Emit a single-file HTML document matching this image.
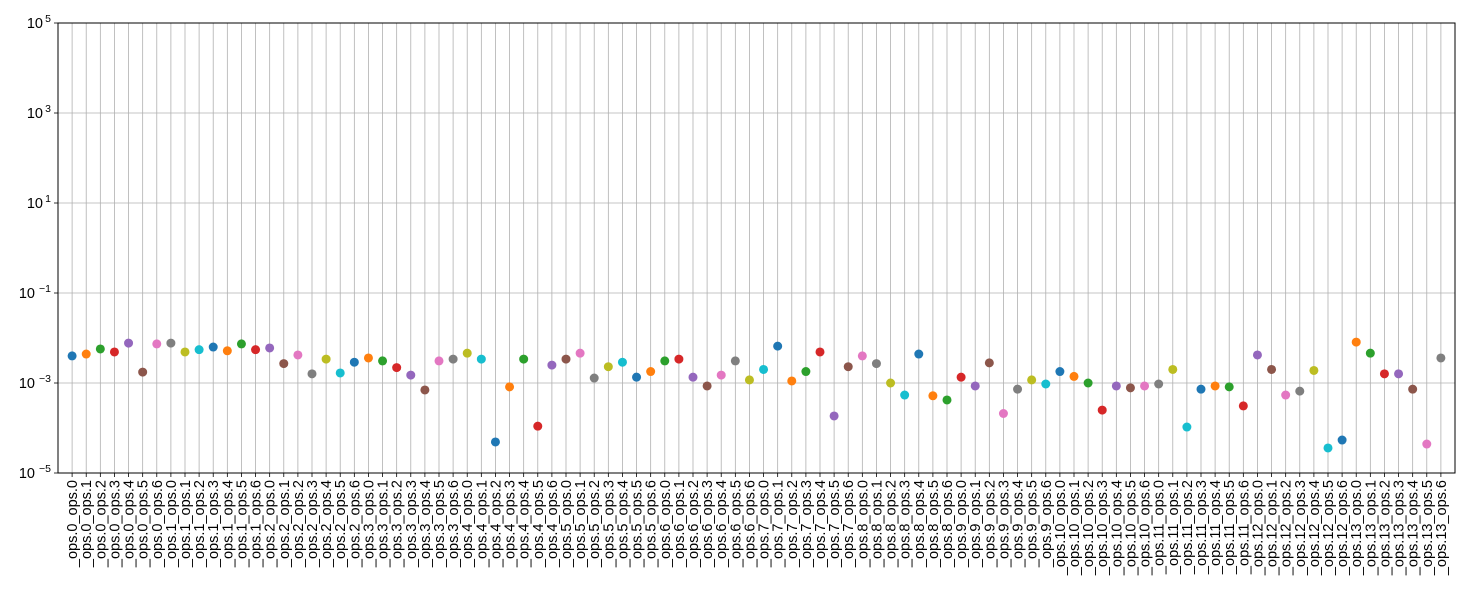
<!DOCTYPE html>
<html><head><meta charset="utf-8">
<style>
html,body{margin:0;padding:0;background:#fff;}
svg{display:block;font-family:"Liberation Sans","DejaVu Sans",sans-serif;}
</style></head>
<body>
<svg id="chart" width="1470" height="600" viewBox="0 0 1470 600" xmlns="http://www.w3.org/2000/svg">
<rect x="0" y="0" width="1470" height="600" fill="#fff"/>
<g id="grid"></g>
<g id="xticks"></g>
<g id="yticks"></g>
<g id="points"></g>
<rect x="58" y="23" width="1397" height="450" fill="none" stroke="#000" stroke-width="1"/>
</svg>
<script>
const groups = [0,1,2,3,4,5,6,7,8,9,10,11,12,13];
const subs = [0,1,2,3,4,5,6];
const values = [
0.0040,0.0044,0.0057,0.0049,0.0077,0.00175,0.0074,
0.0077,0.0049,0.0055,0.0063,0.0052,0.0074,0.0055,
0.0060,0.0027,0.0042,0.0016,0.0034,0.00167,0.0029,
0.0036,0.0031,0.0022,0.0015,0.00070,0.0031,0.0034,
0.0046,0.0034,0.000049,0.00082,0.0034,0.00011,0.0025,
0.0034,0.0046,0.00129,0.0023,0.0029,0.00135,0.0018,
0.0031,0.0034,0.00135,0.00086,0.0015,0.0031,0.00117,
0.0020,0.0066,0.00111,0.0018,0.0049,0.000185,0.0023,
0.0040,0.0027,0.0010,0.00054,0.0044,0.00052,0.00042,
0.00135,0.00086,0.0028,0.00021,0.00073,0.00117,0.00095,
0.0018,0.0014,0.0010,0.00025,0.00086,0.00078,0.00086,
0.00095,0.0020,0.000105,0.00073,0.00086,0.00082,0.00031,
0.0042,0.0020,0.00054,0.00066,0.0019,0.000036,0.000054,
0.0081,0.0046,0.0016,0.0016,0.00073,0.000044,0.0036
];
const yTickExps = [-5,-3,-1,1,3,5];
const colors = ["#1f77b4","#ff7f0e","#2ca02c","#d62728","#9467bd","#8c564b","#e377c2","#7f7f7f","#bcbd22","#17becf"];

const categories = [];
groups.forEach(g => subs.forEach(s => categories.push("_ops." + g + "_ops." + s)));

const NS = "http://www.w3.org/2000/svg";
const L = 58, R = 1455, T = 23, B = 473;
const n = categories.length;
function xPos(i){ return L + (i + 1) * (R - L) / (n + 1); }
function yPos(v){ const lg = Math.log10(v); return B - (lg + 5) / 10 * (B - T); }

const grid = document.getElementById('grid');
const xt = document.getElementById('xticks');
const yt = document.getElementById('yticks');
const pts = document.getElementById('points');

categories.forEach((c, i) => {
  const x = xPos(i);
  const gl = document.createElementNS(NS, 'line');
  gl.setAttribute('x1', x); gl.setAttribute('x2', x);
  gl.setAttribute('y1', T); gl.setAttribute('y2', B);
  gl.setAttribute('stroke', '#b0b0b0'); gl.setAttribute('stroke-width', '0.8');
  
  
  grid.appendChild(gl);
  const tk = document.createElementNS(NS, 'line');
  tk.setAttribute('x1', x); tk.setAttribute('x2', x);
  tk.setAttribute('y1', B); tk.setAttribute('y2', B + 4);
  tk.setAttribute('stroke', '#000'); tk.setAttribute('stroke-width', '0.8');
  
  
  xt.appendChild(tk);
  const t = document.createElementNS(NS, 'text');
  t.setAttribute('transform', 'translate(' + (x + 5) + ',' + (B + 7) + ') rotate(-90)');
  t.setAttribute('text-anchor', 'end');
  t.setAttribute('font-size', '14.5');
  t.textContent = c;
  
  
  xt.appendChild(t);
});

yTickExps.forEach(e => {
  const y = yPos(Math.pow(10, e));
  const gl = document.createElementNS(NS, 'line');
  gl.setAttribute('x1', L); gl.setAttribute('x2', R);
  gl.setAttribute('y1', y); gl.setAttribute('y2', y);
  gl.setAttribute('stroke', '#b0b0b0'); gl.setAttribute('stroke-width', '0.8');
  
  
  grid.appendChild(gl);
  const tk = document.createElementNS(NS, 'line');
  tk.setAttribute('x1', L - 4); tk.setAttribute('x2', L);
  tk.setAttribute('y1', y); tk.setAttribute('y2', y);
  tk.setAttribute('stroke', '#000'); tk.setAttribute('stroke-width', '0.8');
  
  
  yt.appendChild(tk);
  const t = document.createElementNS(NS, 'text');
  t.setAttribute('x', L - 8 - (e < 0 ? 15 : 7));
  t.setAttribute('y', y + 5);
  t.setAttribute('text-anchor', 'end');
  t.setAttribute('font-size', '14.5');
  t.textContent = '10';
  
  
  yt.appendChild(t);
  const sup = document.createElementNS(NS, 'text');
  sup.setAttribute('x', L - 7);
  sup.setAttribute('y', y - 1);
  sup.setAttribute('text-anchor', 'end');
  sup.setAttribute('font-size', '10.5');
  sup.textContent = (e < 0 ? '\u2212' : '') + Math.abs(e);
  
  
  yt.appendChild(sup);
});

values.forEach((v, i) => {
  const c = document.createElementNS(NS, 'circle');
  c.setAttribute('cx', xPos(i));
  c.setAttribute('cy', yPos(v));
  c.setAttribute('r', '4.5');
  c.setAttribute('fill', colors[i % colors.length]);
  
  
  pts.appendChild(c);
});
</script>
</body></html>
